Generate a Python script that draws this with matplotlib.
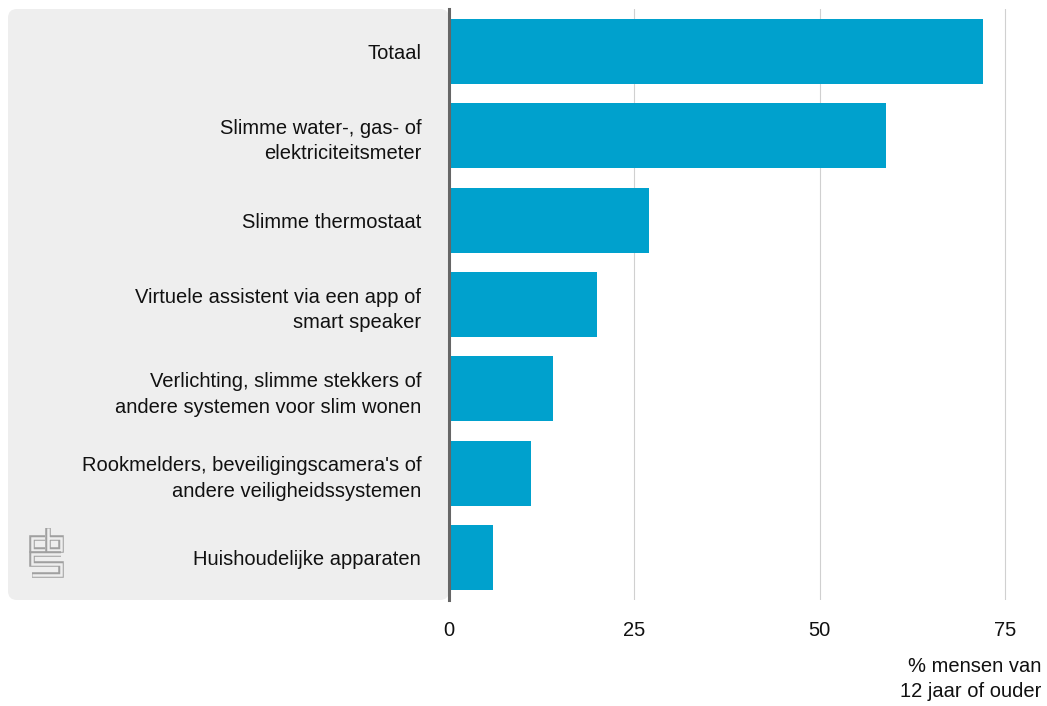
import matplotlib
matplotlib.use("Agg")
import matplotlib.pyplot as plt
from matplotlib.patches import FancyBboxPatch

categories = [
    "Totaal",
    "Slimme water-, gas- of\nelektriciteitsmeter",
    "Slimme thermostaat",
    "Virtuele assistent via een app of\nsmart speaker",
    "Verlichting, slimme stekkers of\nandere systemen voor slim wonen",
    "Rookmelders, beveiligingscamera's of\nandere veiligheidssystemen",
    "Huishoudelijke apparaten",
]
values = [72, 59, 27, 20, 14, 11, 6]
xticks = [0, 25, 50, 75]
xlabel = "% mensen van\n12 jaar of ouder"

plt.rcParams['font.family'] = ['Liberation Sans', 'DejaVu Sans']

W, H = 1047, 706
fig = plt.figure(figsize=(W / 100, H / 100), dpi=100)

# background overlay in pixel coordinates
bg = fig.add_axes([0, 0, 1, 1], zorder=-1)
bg.set_xlim(0, W)
bg.set_ylim(H, 0)
bg.axis("off")
panel = FancyBboxPatch((8, 9), 441, 591, boxstyle="round,pad=0,rounding_size=9",
                       facecolor="#eeeeee", edgecolor="none")
bg.add_patch(panel)

# CBS logo (simplified outlined strokes)
logo_paths = [
    # c
    [(45, 538), (32, 538), (32, 550), (45, 550)],
    # b
    [(48, 528), (48, 550), (61, 550), (61, 538), (48, 538)],
    # S
    [(61, 554), (32, 554), (32, 564), (61, 564), (61, 575), (32, 575)],
]
for p in logo_paths:
    xs = [q[0] for q in p]
    ys = [q[1] for q in p]
    bg.plot(xs, ys, color="#a0a0a0", lw=4.0, solid_joinstyle="miter", solid_capstyle="butt")
    bg.plot(xs, ys, color="#eeeeee", lw=1.8, solid_joinstyle="miter", solid_capstyle="butt")

ax = fig.add_axes([449 / W, 1 - 600 / H, (1042 - 449) / W, (600 - 9) / H])
ax.patch.set_alpha(0)
y = list(range(len(categories)))
ax.barh(y, values, height=0.77, color="#00a1cd", zorder=3)
ax.set_ylim(len(categories) - 0.5, -0.5)
ax.set_xlim(0, 80)
ax.set_xticks(xticks)
ax.set_xticklabels([str(t) for t in xticks])
ax.set_yticks(y)
ax.set_yticklabels(categories)
ax.tick_params(axis="both", length=0, labelsize=14.5, colors="#111111")
ax.tick_params(axis="x", pad=15)
ax.tick_params(axis="y", pad=20)
for lbl in ax.get_yticklabels():
    lbl.set_multialignment("right")
    lbl.set_linespacing(1.45)
for s in ["top", "right", "bottom"]:
    ax.spines[s].set_visible(False)
ax.spines["left"].set_color("#666666")
ax.spines["left"].set_linewidth(2.2)
ax.spines["left"].set_zorder(5)
ax.grid(axis="x", color="#d0d0d0", lw=0.8, zorder=0)
ax.set_axisbelow(True)

fig.text(1041 / W, 1 - 679 / H, xlabel, ha="right", va="center",
         multialignment="right", fontsize=14.5, linespacing=1.45, color="#111111")

fig.savefig("out.png", dpi=100)
